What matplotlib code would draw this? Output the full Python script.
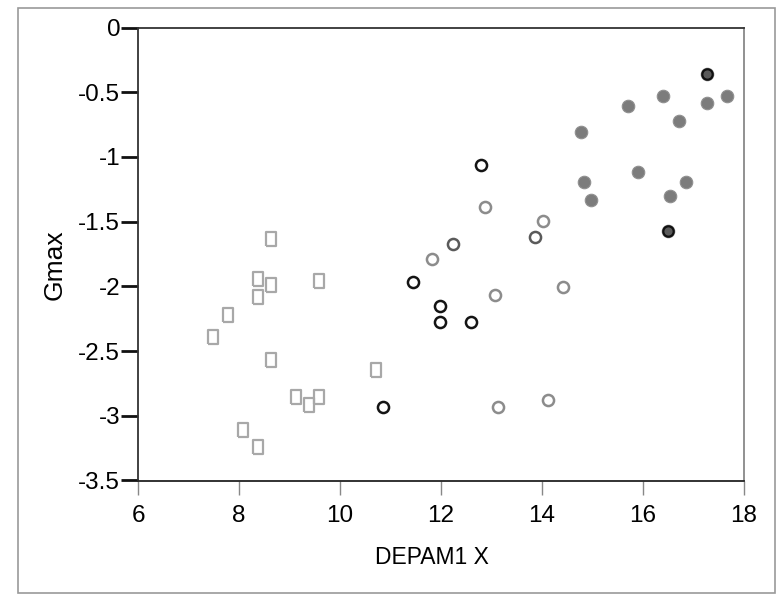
import matplotlib
matplotlib.use("Agg")
import matplotlib.pyplot as plt
from matplotlib.patches import Rectangle

plt.rcParams['font.family'] = ['Liberation Sans', 'DejaVu Sans']

# Group 1: open light-gray squares
sq_x = [8.63, 8.37, 8.63, 9.58, 8.37, 7.78, 7.49, 8.63, 10.72, 9.13, 9.38, 9.58, 8.08, 8.37]
sq_y = [-1.635, -1.941, -1.988, -1.962, -2.084, -2.218, -2.394, -2.569, -2.644, -2.853, -2.913, -2.853, -3.106, -3.24]

# Group 2: open circles (black)
cb_x = [12.80, 11.44, 11.99, 11.99, 12.60, 10.85]
cb_y = [-1.061, -1.965, -2.154, -2.272, -2.272, -2.933]

# Group 2: open circles (dark gray)
cd_x = [12.24, 13.87]
cd_y = [-1.676, -1.616]

# Group 2: open circles (gray)
cg_x = [12.88, 14.03, 11.83, 13.08, 14.43, 13.13, 14.13]
cg_y = [-1.387, -1.497, -1.792, -2.063, -2.003, -2.933, -2.876]

# Group 3: filled gray circles
fg_x = [17.27, 16.40, 17.68, 15.70, 17.27, 16.72, 14.78, 15.90, 16.86, 14.83, 14.98, 16.55, 16.51]
fg_y = [-0.359, -0.527, -0.529, -0.609, -0.583, -0.721, -0.806, -1.120, -1.193, -1.193, -1.332, -1.304, -1.573]

# Darkened (overprinted) points
dk_x = [17.27, 16.51]
dk_y = [-0.359, -1.573]

x_ticks = [6, 8, 10, 12, 14, 16, 18]
y_ticks = [0, -0.5, -1, -1.5, -2, -2.5, -3, -3.5]
y_ticklabels = ['0', '-0.5', '-1', '-1.5', '-2', '-2.5', '-3', '-3.5']

fig = plt.figure(figsize=(7.8, 5.96), dpi=100)
fig.patch.set_facecolor('white')
ax = fig.add_axes([138.3 / 780, 1 - 480.5 / 596, (743.5 - 138.3) / 780, (480.5 - 27.5) / 596])

# outer frame around the figure
fig.patches.append(Rectangle((18 / 780, 1 - 593 / 596), (775 - 18) / 780, (593 - 8) / 596,
                             transform=fig.transFigure, fill=False, edgecolor='#9a9a9a',
                             linewidth=1.2))

rect_marker = [(-0.68, -1), (0.68, -1), (0.68, 1), (-0.68, 1), (-0.68, -1)]

ax.plot(sq_x, sq_y, linestyle='none', marker=rect_marker, markersize=10,
        markerfacecolor='none', markeredgecolor='#a8a8a8', markeredgewidth=1.6, zorder=3)
ax.plot(cg_x, cg_y, linestyle='none', marker='o', markersize=8,
        markerfacecolor='none', markeredgecolor='#8c8c8c', markeredgewidth=1.8, zorder=3)
ax.plot(cd_x, cd_y, linestyle='none', marker='o', markersize=8,
        markerfacecolor='none', markeredgecolor='#5a5a5a', markeredgewidth=1.8, zorder=3)
ax.plot(cb_x, cb_y, linestyle='none', marker='o', markersize=8,
        markerfacecolor='none', markeredgecolor='#141414', markeredgewidth=1.8, zorder=3)
ax.plot(fg_x, fg_y, linestyle='none', marker='o', markersize=9,
        markerfacecolor='#7c7c7c', markeredgecolor='#909090', markeredgewidth=0.8, zorder=3)
ax.plot(dk_x, dk_y, linestyle='none', marker='o', markersize=7.5,
        markerfacecolor='#5a5a5a', markeredgecolor='#111111', markeredgewidth=1.6, zorder=4)

ax.set_xlim(6, 18)
ax.set_ylim(-3.5, 0)
ax.set_xticks(x_ticks)
ax.set_yticks(y_ticks)
ax.set_yticklabels(y_ticklabels)

ax.tick_params(axis='y', direction='out', length=12, width=2.0, color='#111111',
               labelsize=17.5, pad=1)
ax.tick_params(axis='x', direction='out', length=10, width=1.0, color='#888888',
               labelsize=17.5, pad=8)

ax.spines['left'].set_color('#333333')
ax.spines['left'].set_linewidth(1.3)
ax.spines['bottom'].set_color('#222222')
ax.spines['bottom'].set_linewidth(1.3)
ax.spines['top'].set_color('#333333')
ax.spines['top'].set_linewidth(1.3)
ax.spines['right'].set_color('#888888')
ax.spines['right'].set_linewidth(1.3)

ax.set_xlabel('DEPAM1 X', fontsize=16.5)
ax.set_ylabel('Gmax', fontsize=19)
ax.xaxis.set_label_coords((432 - 138.3) / 605.2, (480.5 - 557) / 453)
ax.xaxis.label.set_va('center')
ax.yaxis.set_label_coords((55 - 138.3) / 605.2, (480.5 - 265) / 453)
ax.yaxis.label.set_va('center')

fig.savefig('out.png', dpi=100, facecolor='white')
